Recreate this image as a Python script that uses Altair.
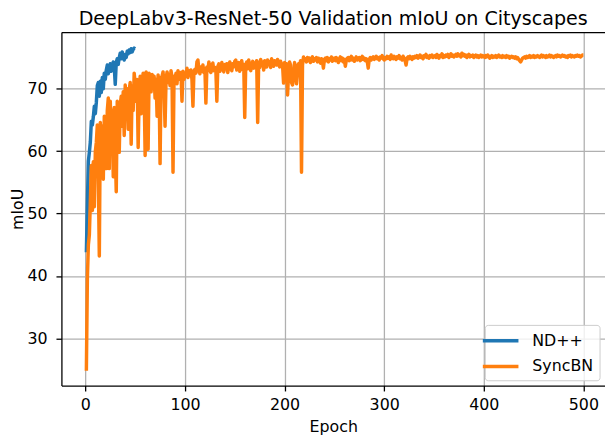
import altair as alt
import pandas as pd

series_names = ["ND++", "SyncBN"]
series_colors = ["#1f77b4", "#ff7f0e"]
x_ticks = [0, 100, 200, 300, 400, 500]
y_ticks = [30, 40, 50, 60, 70]

ndpp_miou = [
    43.8, 51.5, 58.4, 59.8, 61.5, 64.8, 64.2, 65.5, 67.2, 66.0,
    67.8, 70.5, 71.0, 68.8, 71.2, 69.4, 71.8, 70.0, 72.5, 71.5,
    73.0, 73.8, 72.4, 73.2, 74.0, 72.8, 73.6, 74.3, 73.5, 70.7,
    74.2, 74.8, 73.9, 75.0, 75.7, 74.8, 75.9, 75.2, 74.6, 75.5,
    75.0, 76.0, 75.6, 76.2, 75.8, 76.4, 75.9, 76.3, 76.5, 76.4,
]

syncbn_miou = [
    24.8, 39.5, 45.0, 46.6, 52.0, 57.7, 50.5, 58.3, 51.1, 59.9,
    61.4, 64.2, 56.0, 43.2, 64.6, 58.0, 64.0, 55.5, 65.6, 60.0,
    57.2, 66.5, 68.5, 57.2, 68.0, 62.0, 66.5, 55.9, 67.0, 60.5,
    53.5, 68.0, 63.0, 59.8, 67.5, 68.8, 64.0, 69.5, 62.5, 70.6,
    66.0, 70.0, 63.5, 69.8, 71.0, 61.1, 70.5, 66.5, 72.5, 70.9,
    68.0, 71.5, 60.6, 69.0, 72.0, 66.0, 71.0, 72.5, 70.0, 59.3,
    72.7, 70.4, 60.3, 72.5, 71.0, 69.5, 72.3, 70.8, 72.0, 68.5,
    71.5, 65.6, 72.2, 70.5, 58.0, 71.8, 72.0, 72.7, 70.0, 64.0,
    71.5, 72.7, 71.0, 72.3, 70.5, 72.9, 71.8, 56.6, 72.0, 71.2,
    72.5, 70.8, 72.9, 71.5, 72.0, 72.6, 68.0, 72.8, 71.5, 72.3,
    72.0, 73.3, 71.8, 72.9, 72.2, 73.0, 71.5, 67.2, 72.8, 73.1,
    72.5, 74.3, 74.6, 73.0, 72.4, 73.5, 72.8, 73.8, 72.6, 73.2,
    67.7, 73.5, 72.9, 74.3, 73.0, 72.6, 73.8, 74.1, 72.9, 73.4,
    73.0, 68.0, 73.6, 74.0, 72.8, 73.5, 74.2, 73.1, 72.7, 73.9,
    73.3, 74.0, 72.6, 73.8, 74.3, 73.2, 72.9, 74.0, 73.5, 74.4,
    74.6, 73.0, 73.8, 74.2, 72.8, 73.6, 74.5, 73.1, 73.9, 65.4,
    73.8, 74.3, 73.2, 74.6, 73.5, 72.9, 74.0, 74.4, 73.3, 74.1,
    73.6, 74.5, 64.6, 74.2, 73.4, 74.7, 73.8, 74.3, 73.0, 74.5,
    74.0, 73.5, 74.6, 73.9, 74.3, 73.4, 74.8, 74.0, 73.6, 74.5,
    74.2, 73.8, 74.7, 74.1, 73.5, 74.4, 74.0, 73.7, 70.9, 74.2,
    71.5, 74.0, 69.0, 72.5, 74.3, 73.8, 71.0, 70.6, 72.0, 74.2,
    73.5, 70.8, 72.5, 74.0, 73.2, 74.5, 56.6, 73.8, 75.1, 74.6,
    74.8, 74.3, 75.0, 74.5, 74.9, 74.2, 74.7, 75.1, 74.4, 74.8,
    74.6, 75.0, 74.3, 74.9, 74.5, 74.1, 74.8, 74.4, 73.3, 74.7,
    74.9, 74.5, 75.0, 74.3, 74.8, 74.6, 75.1, 74.4, 74.7, 74.9,
    74.5, 75.0, 74.6, 74.2, 74.8, 75.1, 74.5, 74.9, 74.3, 74.7,
    73.6, 74.6, 74.9, 75.0, 74.5, 74.8, 75.2, 74.6, 74.9, 74.4,
    74.8, 75.1, 74.6, 74.9, 75.0, 74.5, 74.8, 75.2, 74.7, 74.9,
    74.5, 74.8, 74.4, 73.3, 74.7, 75.0, 74.6, 74.9, 75.1, 74.7,
    74.9, 75.2, 74.8, 75.0, 74.6, 75.1, 74.9, 75.3, 74.8, 74.6,
    75.0, 74.8, 75.2, 74.9, 75.1, 74.7, 75.4, 75.0, 74.8, 75.2,
    75.0, 74.7, 75.1, 74.9, 75.3, 74.8, 75.0, 74.6, 75.2, 74.9,
    74.5, 73.8, 74.9, 75.1, 74.8, 75.2, 75.0, 74.7, 75.1, 74.9,
    75.2, 75.0, 75.3, 74.9, 75.1, 75.4, 75.0, 75.2, 74.8, 75.3,
    75.1, 75.5, 75.0, 75.2, 74.9, 75.3, 75.1, 75.4, 75.0, 75.2,
    75.3, 75.0, 75.5, 75.1, 74.9, 75.3, 75.2, 75.6, 75.0, 75.3,
    75.1, 75.4, 75.2, 75.5, 75.0, 75.3, 75.6, 75.2, 75.4, 75.1,
    75.3, 75.5, 75.2, 75.6, 75.3, 75.4, 75.1, 75.7, 75.3, 75.5,
    75.2, 75.4, 75.0, 75.3, 75.5, 75.1, 75.3, 75.2, 75.4, 75.0,
    75.2, 75.4, 75.1, 75.3, 75.0, 75.2, 75.4, 75.1, 75.3, 75.2,
    75.0, 75.3, 75.1, 75.4, 75.2, 74.9, 75.1, 75.3, 75.0, 75.2,
    75.1, 75.3, 75.0, 75.2, 75.4, 75.1, 75.2, 75.0, 75.3, 75.1,
    75.2, 75.0, 75.3, 75.1, 75.2, 74.9, 75.1, 75.2, 75.0, 75.1,
    74.9, 75.1, 74.8, 75.0, 74.7, 74.5, 74.3, 74.6, 74.9, 75.0,
    75.1, 74.9, 75.2, 75.0, 75.1, 75.3, 75.0, 75.2, 75.1, 75.3,
    75.0, 75.2, 75.1, 75.3, 75.2, 75.0, 75.2, 75.4, 75.1, 75.3,
    75.2, 75.0, 75.3, 75.1, 75.2, 75.4, 75.1, 75.3, 75.2, 75.0,
    75.2, 75.3, 75.1, 75.4, 75.2, 75.3, 75.1, 75.2, 75.4, 75.2,
    75.3, 75.1, 75.2, 75.0, 75.3, 75.2, 75.4, 75.1, 75.3, 75.2,
    75.1, 75.3, 75.2, 75.4, 75.2, 75.3, 75.1, 75.2, 75.4, 75.4,
]

rows = []
for i, v in enumerate(ndpp_miou):
    rows.append({"Epoch": i + 1, "mIoU": v, "series": series_names[0]})
for i, v in enumerate(syncbn_miou):
    rows.append({"Epoch": i + 1, "mIoU": v, "series": series_names[1]})
df = pd.DataFrame(rows)

FONT = "DejaVu Sans"
x_scale = alt.Scale(domain=[-24.05, 521.7], nice=False, zero=False)
y_scale = alt.Scale(domain=[22.44, 79.08], nice=False, zero=False)

lines = alt.Chart(df).mark_line(
    strokeWidth=3.5, strokeJoin="round", strokeCap="butt"
).encode(
    x=alt.X("Epoch:Q", scale=x_scale,
            axis=alt.Axis(values=x_ticks, title="Epoch", labelPadding=6,
                          titlePadding=6, minExtent=27.5, maxExtent=27.5,
                          labelFlush=False, format="d")),
    y=alt.Y("mIoU:Q", scale=y_scale,
            axis=alt.Axis(values=y_ticks, title="mIoU", labelPadding=9,
                          titlePadding=4, minExtent=32, maxExtent=32,
                          format="d")),
    color=alt.Color("series:N",
                    scale=alt.Scale(domain=series_names, range=series_colors),
                    legend=alt.Legend(title=None, orient="bottom-right", offset=5.5,
                                      symbolType="M-2.25,0L2.25,0", symbolSize=256,
                                      symbolStrokeWidth=3.5, labelOffset=22,
                                      rowPadding=8, padding=6,
                                      labelFontSize=16, labelFont=FONT,
                                      labelColor="black",
                                      strokeColor="#cccccc",
                                      fillColor="rgba(255,255,255,0.8)",
                                      cornerRadius=3)),
    order=alt.Order("Epoch:Q"),
)

# top spine, drawn as a label-less top axis
top_spine = alt.Chart(df).mark_line(opacity=0).encode(
    x=alt.X("Epoch:Q", scale=x_scale,
            axis=alt.Axis(orient="top", labels=False, ticks=False, grid=False,
                          title=None, domain=True, minExtent=0, maxExtent=0)),
    y=alt.Y("mIoU:Q", scale=y_scale, axis=None),
    detail="series:N",
)

chart = alt.layer(lines, top_spine).resolve_axis(
    x="independent", y="independent"
).properties(
    width=549.5,
    height=357.3,
    title=alt.TitleParams(
        "DeepLabv3-ResNet-50 Validation mIoU on Cityscapes",
        fontSize=19.3, font=FONT, fontWeight="normal", anchor="middle",
        frame="group", offset=2.7, baseline="top", color="black"),
    padding={"left": 2, "top": 0, "right": 0, "bottom": 0},
).configure_view(
    stroke=None
).configure_axis(
    labelFont=FONT, labelFontSize=16, labelColor="black",
    titleFont=FONT, titleFontSize=16, titleFontWeight="normal", titleColor="black",
    gridColor="#b0b0b0", gridWidth=1.3,
    tickColor="black", tickSize=5.5, tickWidth=1.3,
    domainColor="black", domainWidth=1.3, labelOverlap=False,
)

chart.save("out.html", embed_options={"renderer": "svg", "actions": False})
